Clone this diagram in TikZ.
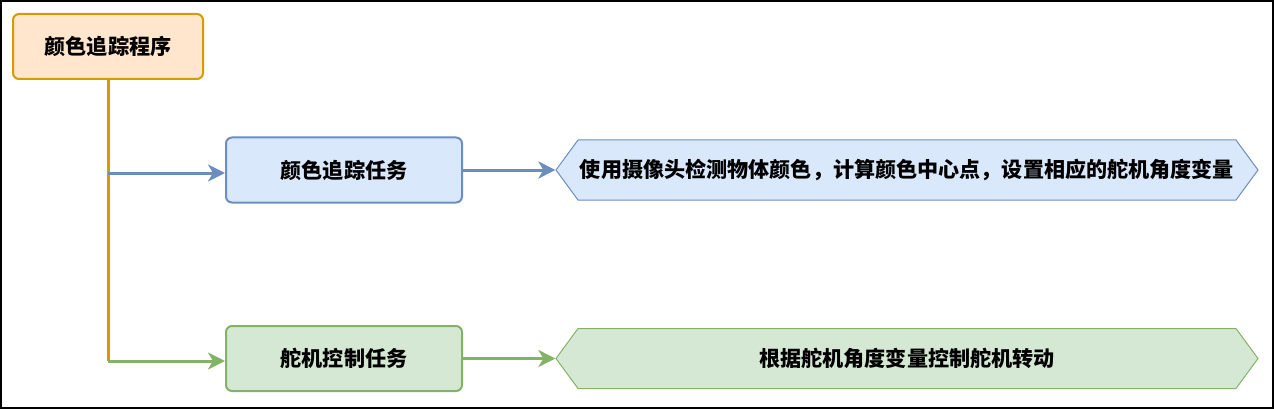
\documentclass[tikz,border=0pt]{standalone}
\usepackage{fontspec}
\setmainfont{Noto Sans CJK SC}
\usetikzlibrary{positioning,shapes.symbols,arrows.meta}
\definecolor{laranjaBorda}{HTML}{D79B00}
\definecolor{laranjaFundo}{HTML}{FFE6CC}
\definecolor{azulBorda}{HTML}{6C8EBF}
\definecolor{azulFundo}{HTML}{DAE8FC}
\definecolor{verdeBorda}{HTML}{82B366}
\definecolor{verdeFundo}{HTML}{D5E8D4}

\begin{document}
\begin{tikzpicture}
            [
                x=1pt, y=-1pt,
                font=\fontsize{21.1}{25}\selectfont\bfseries,
                programa/.style={rectangle, rounded corners=6pt, line width=2pt, draw=laranjaBorda, fill=laranjaFundo, minimum width=190pt, minimum height=65pt},
                tarefa/.style={rectangle, rounded corners=6pt, line width=2pt, minimum width=236pt, minimum height=65pt},
                descricao/.style={signal, signal to=west and east, signal pointer angle=107.5, line width=1pt, minimum width=702pt, minimum height=60pt, inner xsep=0pt},
                seta/.style={line width=3pt, -{Stealth[length=17pt, width=17pt, inset=5pt]}},
            ]
            \useasboundingbox (0,0) rectangle (1274,409);
            \draw[line width=2pt] (1,1) rectangle (1273,408);
            % programa
            \node[programa] (prog) at (108,46.5) {颜色追踪程序};
            % tarefas
            \node[tarefa, draw=azulBorda, fill=azulFundo] (rastreio) at (344,170) {颜色追踪任务};
            \node[tarefa, draw=verdeBorda, fill=verdeFundo] (servo) at (344,358.5) {舵机控制任务};
            % descricoes
            \node[descricao, draw=azulBorda, fill=azulFundo] (desc1) at (907,170) {使用摄像头检测物体颜色，计算颜色中心点，设置相应的舵机角度变量};
            \node[descricao, draw=verdeBorda, fill=verdeFundo] (desc2) at (907,358.5) {根据舵机角度变量控制舵机转动};
            % ligacoes
            \coordinate (j1) at (108,173);
            \coordinate (j2) at (108,361);
            \draw[line width=3pt, laranjaBorda] (prog.south) -- (j2);
            \draw[seta, azulBorda] (j1) -- (j1 -| rastreio.west);
            \draw[seta, verdeBorda] (j2) -- (j2 -| servo.west);
            \draw[seta, azulBorda] (rastreio.east) -- (desc1.west);
            \draw[seta, verdeBorda] (servo.east) -- (desc2.west);
        \end{tikzpicture}
\end{document}
